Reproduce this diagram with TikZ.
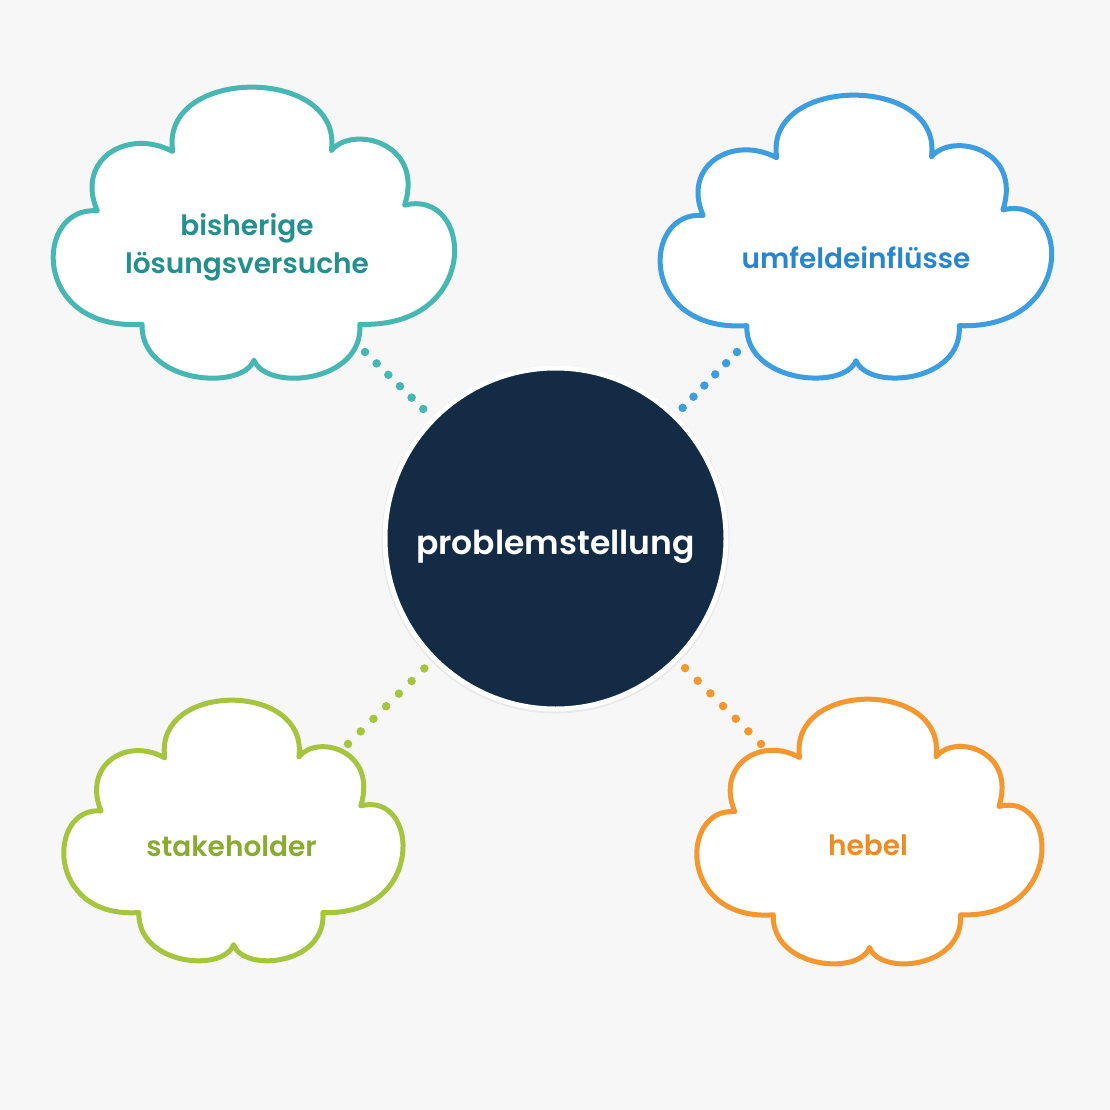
\documentclass[tikz,border=0pt]{standalone}
\usepackage{fontspec}
\IfFontExistsTF{Poppins SemiBold}
  {\newfontfamily\labelfont{Poppins SemiBold}}
  {\IfFontExistsTF{Poppins Medium}
    {\newfontfamily\labelfont{Poppins Medium}}
    {\IfFontExistsTF{Poppins Bold}
      {\newfontfamily\labelfont{Poppins Bold}}
      {\newfontfamily\labelfont[FakeBold=2]{Poppins}}}}
\usetikzlibrary{shadows}

\definecolor{bgcol}{HTML}{F7F7F7}
\definecolor{navy}{HTML}{132B45}
\definecolor{tealline}{HTML}{46B7B2}
\definecolor{tealtext}{HTML}{24908D}
\definecolor{blueline}{HTML}{3C9DE0}
\definecolor{bluetext}{HTML}{2A86CC}
\definecolor{greenline}{HTML}{A6C53F}
\definecolor{greentext}{HTML}{88AB30}
\definecolor{orangeline}{HTML}{F5972F}
\definecolor{orangetext}{HTML}{F08A22}

% cloud outline: style, centre x, centre y, half width, half height
\newcommand{\cloudshape}[5]{%
  \begin{scope}[shift={(#2,#3)}, xscale=#4, yscale=-#5]
    \draw[cloudline,#1] (-0.40,0.56)
      .. controls (-0.46,1.15) and (0.44,1.15) .. (0.38,0.56)
      .. controls (0.48,0.74) and (0.84,0.62) .. (0.74,0.18)
      .. controls (1.08,0.30) and (1.12,-0.68) .. (0.52,-0.65)
      .. controls (0.54,-1.06) and (0.06,-1.12) .. (0,-0.90)
      .. controls (-0.06,-1.12) and (-0.56,-1.06) .. (-0.55,-0.65)
      .. controls (-1.10,-0.70) and (-1.08,0.18) .. (-0.77,0.14)
      .. controls (-0.88,0.50) and (-0.62,0.72) .. cycle;
  \end{scope}}

\tikzset{
  cloudline/.style={line width=5pt, line join=round, fill=white},
  cloudtext/.style={font=\labelfont\fontsize{28}{38}\selectfont, align=center},
  dots/.style={line width=8.5pt, line cap=round, dash pattern=on 0pt off #1}
}

\begin{document}
\begin{tikzpicture}[x=1pt, y=-1pt]

% background
\fill[bgcol] (0,0) rectangle (1110,1110);

% clouds
\cloudshape{draw=tealline}{254}{231}{203.5}{143.5}
\cloudshape{draw=blueline}{856}{235}{198.5}{139.5}
\cloudshape{draw=greenline}{233.5}{829}{172}{128.5}
\cloudshape{draw=orangeline}{869.5}{830}{175}{130.5}

% centre circle
\node[circle, fill=navy, draw=white, line width=5pt, minimum size=341pt,
  inner sep=0pt, outer sep=10.5pt,
  drop shadow={shadow xshift=0pt, shadow yshift=-1pt, opacity=0.12, shadow scale=1.02}]
  (problem) at (555.5,538.5) {};
\node[font=\labelfont\fontsize{33}{42}\selectfont, text=white]
  (problemtext) at ([yshift=-8pt]problem.center) {problemstellung};

% cloud labels
\node[cloudtext, text=tealtext] (loesung) at (247,247) {bisherige\\lösungsversuche};
\node[cloudtext, text=bluetext] (umfeld) at (856,258) {umfeldeinflüsse};
\node[cloudtext, text=greentext] (stake) at (231.5,846) {stakeholder};
\node[cloudtext, text=orangetext] (hebel) at (868,845) {hebel};

% dotted connectors
\coordinate (loesungtip) at (365,352);
\coordinate (umfeldtip) at (737,352);
\coordinate (staketip) at (348,744);
\coordinate (hebeltip) at (761,744);
\draw[dots=16.3pt, tealline] (loesungtip) -- (problem);
\draw[dots=15.6pt, blueline] (umfeldtip) -- (problem);
\draw[dots=17.9pt, greenline] (staketip) -- (problem);
\draw[dots=17.9pt, orangeline] (hebeltip) -- (problem);

\end{tikzpicture}
\end{document}
